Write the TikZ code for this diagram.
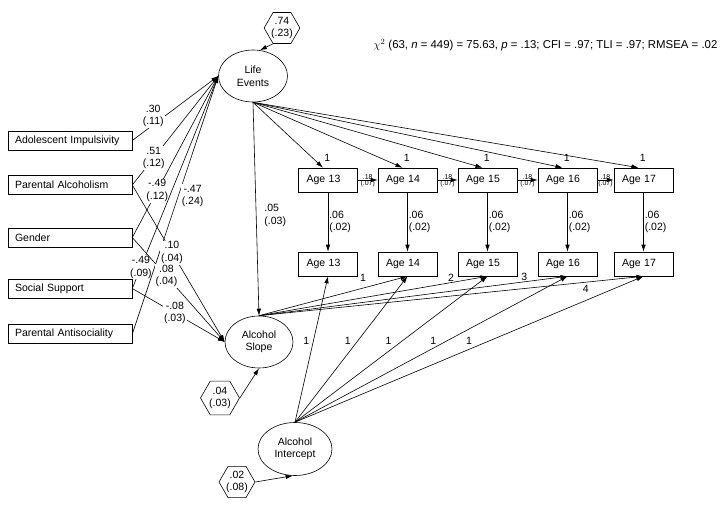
\documentclass[tikz,border=0pt]{standalone}
\usepackage{fontspec}
\setmainfont{Liberation Sans}
\usetikzlibrary{shapes.geometric,arrows.meta}

\tikzset{
  pred/.style={draw, rectangle, text width=110pt, inner xsep=7pt, minimum height=19pt, align=left},
  wave/.style={draw, rectangle, text width=43pt, inner xsep=8pt, minimum height=24pt, align=left},
  latent/.style={draw, ellipse, align=center, inner sep=0pt},
  resid/.style={draw, regular polygon, regular polygon sides=6, inner sep=0pt, align=center},
  est/.style={fill=white, inner sep=1pt, align=center},
  coef/.style={font=\fontsize{7}{8}\selectfont, inner sep=0.5pt},
}

\begin{document}
\begin{tikzpicture}[x=1pt,y=1pt,line width=0.6pt,>={Latex[length=7pt,width=4.5pt]},
  every node/.style={font=\fontsize{10.5}{12.5}\selectfont}]
\useasboundingbox (0,0) rectangle (725,-505);

	% predictors
	\node[pred] (imp) at (70,-140.5) {Adolescent Impulsivity};
	\node[pred] (palc) at (70,-185) {Parental Alcoholism};
	\node[pred] (gen) at (70,-237.5) {Gender};
	\node[pred] (sup) at (70,-288.5) {Social Support};
	\node[pred] (anti) at (70,-334) {Parental Antisociality};

	% latent factors
	\node[latent, minimum width=69pt, minimum height=52pt] (life) at (253,-76) {Life\\Events};
	\node[latent, minimum width=68pt, minimum height=52pt] (slope) at (259,-342) {Alcohol\\Slope};
	\node[latent, minimum width=74pt, minimum height=53pt] (icpt) at (295,-449) {Alcohol\\Intercept};

	% residual variances
	\node[resid, minimum size=34pt] (lvar) at (282,-28) {.74\\(.23)};
	\node[resid, minimum size=39pt] (svar) at (220,-398) {.04\\(.03)};
	\node[resid, minimum size=36pt] (ivar) at (237,-482) {.02\\(.08)};

	% waves
	\foreach \a/\x in {13/328,14/407.5,15/487.5,16/567.5,17/643.5}{
		\node[wave] (ev\a) at (\x,-180) {Age \a};
		\node[wave] (al\a) at (\x,-264) {Age \a};
	}

	\node[anchor=east, font=\fontsize{11.4}{13}\selectfont] (fit) at (721,-45) {$\chi^2$ (63, \textit{n} = 449) = 75.63, \textit{p} = .13; CFI = .97; TLI = .97; RMSEA = .02};

	\draw[->] (lvar.240) -- (life.75);
	\draw[->] (svar.east) -- (slope.south);
	\draw[->] (ivar.east) -- (icpt.265);

	% predictors to life events and slope
	\draw[->] (imp.east) -- node[est, pos=.29, xshift=-4pt, yshift=6pt] {.30\\(.11)} (life.west);
	\draw[->] (palc.east) -- node[est, pos=.25] {.51\\(.12)} (life.west);
	\draw[->] (gen.east) -- node[est, pos=.29] {-.49\\(.12)} (life.west);
	\draw[->] (sup.east) -- node[est, pos=.1] {-.49\\(.09)} (life.west);
	\draw[->] (anti.east) -- node[est, pos=.55, xshift=13pt, yshift=-4pt] {-.47\\(.24)} (life.west);
	\draw[->] (palc.east) -- node[est, pos=.43] {.10\\(.04)} (slope.west);
	\draw[->] (gen.east) -- node[est, pos=.37] {.08\\(.04)} (slope.west);
	\draw[->] (sup.east) -- node[est, pos=.46] {-.08\\(.03)} (slope.west);

	\draw[->] (life.south) -- node[pos=.53, right=7pt, inner sep=1pt, align=left] {.05\\(.03)} (slope.north);

	\foreach \a in {13,...,17}
		\draw[->] (life.south) -- node[at end, anchor=south west, inner sep=1pt, yshift=5pt] {1} ([xshift=-5pt]ev\a.north);

	\foreach \a/\b in {13/14,14/15,15/16,16/17}
		\draw[->] (ev\a.east) -- node[coef, above] {.18} node[coef, below] {(.07)} (ev\b.west);

	\foreach \a in {13,...,17}
		\draw[->] (ev\a.south) -- node[right, inner sep=1pt, align=left] {.06\\(.02)} (al\a.north);

	% growth loadings
	\draw[->] (slope.north) -- node[pos=.7, above=5pt, inner sep=1pt] {1} (al14.south);
	\draw[->] (slope.north) -- node[pos=.84, above, inner sep=1pt] {2} (al15.south);
	\draw[->] (slope.north) -- node[pos=.86, above, inner sep=1pt] {3} (al16.south);
	\draw[->] (slope.north) -- node[pos=.85, below=2pt, inner sep=1pt] {4} (al17.south);

	\foreach \a/\d in {13/3pt,14/6pt,15/10pt,16/10pt,17/17pt}
		\draw[->] (icpt.north) -- node[pos=.56, left=\d, inner sep=1pt] {1} (al\a.south);
\end{tikzpicture}
\end{document}
